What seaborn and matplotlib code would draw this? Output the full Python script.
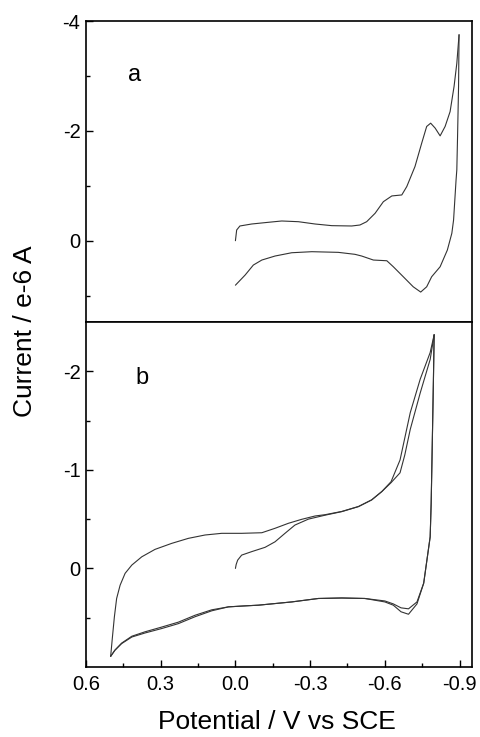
# cyclic voltammograms, two stacked panels (a, b), Origin-like look
import numpy as np
import pandas as pd
import seaborn as sns
import matplotlib
matplotlib.use('Agg')
import matplotlib.pyplot as plt
from matplotlib.ticker import FixedLocator, MultipleLocator, FormatStrFormatter

# panel a: forward scan (0 -> -0.9 V) and return scan
a_fwd_E = [0.0, -0.005, -0.018, -0.065, -0.132, -0.186, -0.253, -0.32, -0.387, -0.467,
           -0.50, -0.527, -0.561, -0.594, -0.628, -0.668, -0.688, -0.721, -0.748, -0.768,
           -0.784, -0.802, -0.822, -0.842, -0.862, -0.878, -0.889, -0.898]
a_fwd_I = [0.0, -0.195, -0.268, -0.304, -0.335, -0.359, -0.346, -0.304, -0.274, -0.268,
           -0.286, -0.346, -0.50, -0.71, -0.815, -0.833, -0.985, -1.35, -1.776, -2.08,
           -2.14, -2.05, -1.909, -2.08, -2.35, -2.81, -3.23, -3.75]
a_rev_E = [-0.898, -0.896, -0.892, -0.889, -0.886, -0.876, -0.869, -0.851, -0.822, -0.788,
           -0.768, -0.744, -0.714, -0.674, -0.634, -0.608, -0.554, -0.507, -0.48, -0.413,
           -0.307, -0.226, -0.159, -0.106, -0.072, -0.039, 0.0]
a_rev_I = [-3.75, -2.81, -1.90, -1.29, -1.107, -0.377, -0.135, 0.17, 0.474, 0.656,
           0.839, 0.935, 0.839, 0.656, 0.474, 0.365, 0.352, 0.279, 0.248, 0.212,
           0.20, 0.219, 0.279, 0.352, 0.443, 0.625, 0.81]

# panel b: first sweep from 0 V, then two cycles between 0.5 and -0.8 V
b_start_E = [0.0, -0.003, -0.009, -0.025, -0.065, -0.119, -0.159, -0.199, -0.239, -0.293,
             -0.36, -0.427, -0.494, -0.547, -0.588, -0.625, -0.661, -0.68, -0.702, -0.742,
             -0.782, -0.798]
b_start_I = [0.0, -0.04, -0.084, -0.135, -0.17, -0.214, -0.27, -0.356, -0.44, -0.50,
             -0.54, -0.576, -0.627, -0.695, -0.78, -0.87, -0.97, -1.15, -1.41, -1.78,
             -2.12, -2.37]
b_fwd_E = [0.501, 0.494, 0.486, 0.477, 0.463, 0.443, 0.416, 0.376, 0.323, 0.256,
           0.189, 0.122, 0.055, -0.025, -0.106, -0.159, -0.213, -0.266, -0.32, -0.36,
           -0.427, -0.494, -0.547, -0.588, -0.625, -0.661, -0.702, -0.742, -0.782, -0.798]
b_fwd_I = [0.892, 0.70, 0.49, 0.305, 0.17, 0.05, -0.034, -0.118, -0.193, -0.254,
           -0.305, -0.339, -0.356, -0.356, -0.362, -0.407, -0.458, -0.498, -0.532, -0.545,
           -0.578, -0.628, -0.695, -0.78, -0.88, -1.10, -1.58, -1.92, -2.19, -2.37]
b_rev_E = [-0.798, -0.795, -0.79, -0.786, -0.782, -0.769, -0.756, -0.729, -0.695, -0.665,
           -0.634, -0.60, -0.52, -0.427, -0.333, -0.226, -0.092, -0.039, 0.028, 0.095,
           0.162, 0.229, 0.296, 0.363, 0.416, 0.457, 0.484, 0.501]
b_rev1_I = [-2.37, -1.9, -1.2, -0.66, -0.32, -0.085, 0.15, 0.34, 0.41, 0.40,
            0.36, 0.33, 0.305, 0.30, 0.305, 0.34, 0.373, 0.38, 0.39, 0.42,
            0.475, 0.545, 0.595, 0.643, 0.688, 0.758, 0.83, 0.892]
b_rev2_I = [-2.37, -1.9, -1.2, -0.66, -0.32, -0.085, 0.15, 0.36, 0.465, 0.44,
            0.373, 0.34, 0.305, 0.30, 0.305, 0.34, 0.373, 0.38, 0.39, 0.43,
            0.49, 0.56, 0.61, 0.655, 0.696, 0.763, 0.83, 0.892]

sns.set_style("ticks")
plt.rcParams['font.family'] = ['Liberation Sans', 'DejaVu Sans']
plt.rcParams['axes.unicode_minus'] = False
plt.rcParams['xtick.direction'] = 'in'
plt.rcParams['ytick.direction'] = 'in'
plt.rcParams['text.color'] = 'black'
plt.rcParams['xtick.color'] = 'black'
plt.rcParams['ytick.color'] = 'black'

line_kw = dict(color='#333333', linewidth=0.8, sort=False, estimator=None)

fig = plt.figure(figsize=(4.81, 7.37), dpi=100)
ax_a = fig.add_axes([0.1788, 0.5631, 0.8025, 0.4084])
ax_b = fig.add_axes([0.1788, 0.0950, 0.8025, 0.4681], sharex=ax_a)

## panel a
for E, I in [(a_fwd_E, a_fwd_I), (a_rev_E, a_rev_I)]:
    sns.lineplot(ax=ax_a, x=E, y=I, **line_kw)
ax_a.set_ylim(1.48, -4)
ax_a.yaxis.set_major_locator(FixedLocator([-4, -2, 0]))
ax_a.yaxis.set_minor_locator(FixedLocator([-3, -1, 1]))
ax_a.yaxis.set_major_formatter(FormatStrFormatter('%d'))
ax_a.tick_params(axis='x', which='both', bottom=False, labelbottom=False)

## panel b
for E, I in [(b_start_E, b_start_I), (b_rev_E, b_rev1_I),
             (b_fwd_E, b_fwd_I), (b_rev_E, b_rev2_I)]:
    sns.lineplot(ax=ax_b, x=E, y=I, **line_kw)
ax_b.set_ylim(1.0, -2.5)
ax_b.yaxis.set_major_locator(FixedLocator([-2, -1, 0]))
ax_b.yaxis.set_minor_locator(FixedLocator([-1.5, -0.5, 0.5]))
ax_b.yaxis.set_major_formatter(FormatStrFormatter('%d'))

ax_b.set_xlim(0.6, -0.95)
ax_b.xaxis.set_major_locator(MultipleLocator(0.3))
ax_b.xaxis.set_minor_locator(MultipleLocator(0.15))
ax_b.xaxis.set_major_formatter(FormatStrFormatter('%.1f'))

for ax in (ax_a, ax_b):
    ax.set(xlabel='', ylabel='')
    for s in ax.spines.values():
        s.set_linewidth(1.2)
        s.set_color('black')
    ax.tick_params(which='major', length=5, width=1, labelsize=14.5, pad=4)
    ax.tick_params(which='minor', length=3, width=1)
    ax.tick_params(top=False, right=False, which='both')
ax_b.tick_params(axis='x', pad=6)

fig.text(0.2807, 0.898, 'a', ha='center', va='center', fontsize=17)
fig.text(0.2946, 0.487, 'b', ha='center', va='center', fontsize=17)
fig.text(0.052, 0.551, 'Current / e-6 A', rotation=90, ha='center', va='center', fontsize=19)
fig.text(0.576, 0.021, 'Potential / V vs SCE', ha='center', va='center', fontsize=19)

fig.savefig('out.png', dpi=100)
plt.close()
